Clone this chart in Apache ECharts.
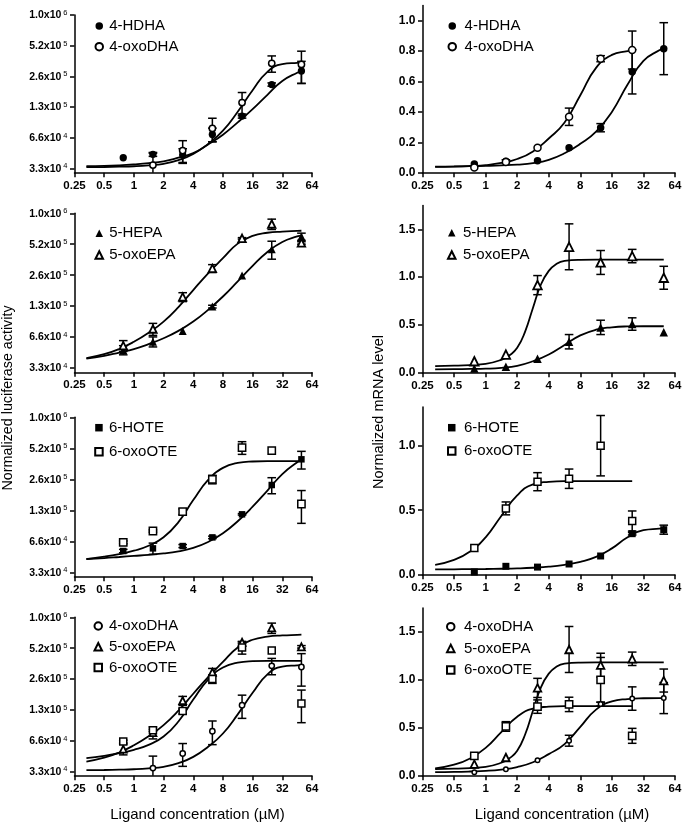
<!DOCTYPE html>
<html><head><meta charset="utf-8">
<script src="https://cdn.jsdelivr.net/npm/echarts@6/dist/echarts.min.js"></script>
<style>html,body{margin:0;padding:0;background:#fff}#c{width:686px;height:827px}</style>
</head><body><div id="c"></div>
<script>
// ---------------- data ----------------
const conc = [0.78, 1.56, 3.125, 6.25, 12.5, 25, 50];
const concTicks = [0.25, 0.5, 1, 2, 4, 8, 16, 32, 64];
const concTickLabels = ['0.25', '0.5', '1', '2', '4', '8', '16', '32', '64'];
const lucTickValues = [32768, 65536, 131072, 262144, 524288, 1048576];
const lucTickMantissa = ['3.3', '6.6', '1.3', '2.6', '5.2', '1.0'];
const lucTickExponent = ['4', '4', '5', '5', '5', '6'];
const mrnaTicksA = [0, 0.2, 0.4, 0.6, 0.8, 1.0];
const mrnaTicksB = [0, 0.5, 1.0, 1.5];
const mrnaTicksC = [0, 0.5, 1.0];

// luciferase activity: means and SEM
const luc4HDHA = [41700, 45000, 44300, 70600, 107000, 218000, 296000];
const luc4HDHAErr = [0, 2000, 6800, 10800, 5000, 8000, 72000];
const luc4oxoDHA = [null, 35300, 49000, 80800, 145000, 352000, 343000];
const luc4oxoDHAErr = [0, 10900, 12300, 21000, 37000, 64000, 120000];
const luc5HEPA = [49000, 59100, 75000, 129600, 260000, 468000, 622000];
const luc5HEPAErr = [5000, 6600, 0, 4000, 0, 93000, 50000];
const luc5oxoEPA = [54000, 78500, 161000, 305000, 598000, 825000, 540000];
const luc5oxoEPAErr = [6500, 10500, 16000, 27000, 10000, 95000, 15000];
const luc6HOTE = [52800, 56000, 59000, 71600, 119900, 230900, 410000];
const luc6HOTEErr = [2000, 7000, 2000, 2000, 2000, 41000, 80000];
const luc6oxoOTE = [64100, 82600, 127200, 262000, 533000, 497800, 151000];
const luc6oxoOTEErr = [2000, 2000, 8000, 25000, 75000, 0, 53000];

// fitted-curve x positions (ligand concentration, uM)
const fitXFull = [0.33, 0.5, 0.71, 1, 1.41, 2, 2.83, 4, 5.66, 8, 11.3, 16, 22.6, 32, 45.3, 50];
const fitXTo25 = [0.33, 0.5, 0.71, 1, 1.41, 2, 2.83, 4, 5.66, 8, 11.3, 16, 22.6, 25];
const fitXSteep = [0.33, 0.5, 0.71, 1, 1.41, 1.68, 2, 2.38, 2.83, 3.36, 4, 4.76, 5.66, 8, 16, 32, 50];

// luciferase fitted curves
const lucFit4HDHA = [34400, 34650, 35120, 35850, 36860, 38430, 41760, 46340, 56270, 70240, 92680, 124900, 172900, 236000, 284600, 292600];
const lucFit4oxoDHA = [33690, 33810, 34040, 34400, 35120, 36360, 39510, 45390, 57050, 76860, 118100, 191800, 290600, 345900, 355600, 356800];
const lucFit5HEPA = [40330, 42930, 46340, 50010, 55880, 63740, 75280, 92680, 120600, 162600, 228200, 322700, 440900, 550700, 623900, 637000];
const lucFit5oxoEPA = [40890, 44580, 50160, 58900, 72090, 92680, 128300, 187900, 273300, 383900, 531600, 632600, 678000, 697000, 706700, 709100];
const lucFit6oxoOTE = [44150, 46500, 49310, 53210, 59450, 71700, 100700, 164800, 258500, 338500, 378500, 390500, 393200, 393200, 393200, 393200];
const lucFit6HOTE = [44150, 45080, 46190, 47330, 48490, 50010, 52500, 56660, 64630, 78480, 102800, 142300, 204100, 294700, 383800, 405700];

// mRNA level: means and SEM
const mrna4HDHA = [0.057, 0.075, 0.079, 0.164, 0.296, 0.664, 0.816];
const mrna4HDHAErr = [0, 0.01, 0, 0, 0.027, 0.146, 0.171];
const mrna4oxoDHA = [0.035, 0.07, 0.164, 0.368, 0.75, 0.807, null];
const mrna4oxoDHAErr = [0, 0, 0, 0.057, 0.02, 0.125, 0];
const mrna4oxoDHAAll = [0.035, 0.068, 0.162, 0.365, 0.748, 0.805, 0.81];
const mrna4oxoDHAAllErr = [0, 0, 0, 0.057, 0.02, 0.122, 0.162];
const mrna5HEPA = [0.045, 0.063, 0.146, 0.324, 0.474, 0.509, 0.422];
const mrna5HEPAErr = [0, 0, 0, 0.075, 0.075, 0.065, 0];
const mrna5oxoEPA = [0.12, 0.19, 0.916, 1.317, 1.153, 1.22, 0.993];
const mrna5oxoEPAErr = [0, 0, 0.1, 0.24, 0.125, 0.07, 0.12];
const mrna6HOTE = [0.021, 0.065, 0.059, 0.083, 0.145, 0.318, 0.349];
const mrna6HOTEErr = [0, 0, 0, 0, 0, 0.01, 0.035];
const mrna6oxoOTE = [0.207, 0.514, 0.721, 0.744, 1.0, 0.416, null];
const mrna6oxoOTEErr = [0, 0.05, 0.07, 0.075, 0.234, 0.078, 0];

// mRNA fitted curves
const mrnaFit4HDHA = [0.040, 0.041, 0.043, 0.045, 0.048, 0.053, 0.063, 0.085, 0.128, 0.19, 0.27, 0.40, 0.58, 0.735, 0.805, 0.815];
const mrnaFit4oxoDHA = [0.038, 0.040, 0.044, 0.05, 0.064, 0.09, 0.14, 0.225, 0.33, 0.51, 0.69, 0.775, 0.80, 0.805];
const mrnaFit4oxoDHAAll = [0.038, 0.040, 0.044, 0.05, 0.064, 0.09, 0.14, 0.225, 0.33, 0.51, 0.69, 0.775, 0.80, 0.808, 0.81, 0.81];
const mrnaFit5HEPA = [0.035, 0.037, 0.039, 0.042, 0.051, 0.072, 0.12, 0.19, 0.29, 0.39, 0.45, 0.475, 0.484, 0.486, 0.486, 0.486];
const mrnaFit5oxoEPA = [0.068, 0.073, 0.08, 0.092, 0.135, 0.18, 0.26, 0.43, 0.68, 0.92, 1.065, 1.14, 1.17, 1.18, 1.182, 1.182, 1.182];
const mrnaFit6oxoOTE = [0.077, 0.115, 0.18, 0.29, 0.455, 0.615, 0.70, 0.72, 0.726, 0.726, 0.726, 0.726, 0.726, 0.726];
const mrnaFit6HOTE = [0.041, 0.042, 0.043, 0.044, 0.046, 0.049, 0.054, 0.062, 0.077, 0.10, 0.138, 0.204, 0.29, 0.345, 0.357, 0.359];

// ---------------- layout / style ----------------
const FF = '"Liberation Sans", Arial, Helvetica, sans-serif';
const LUC_MIN = 29740, LUC_MAX = 1048700;

const panels = [
  { col: 'L', top: 15, height: 157.7, groups: [
      { name: '4-HDHA', y: luc4HDHA, err: luc4HDHAErr, fx: fitXFull, fy: lucFit4HDHA, sym: 'circle', size: 7.3, open: false },
      { name: '4-oxoDHA', y: luc4oxoDHA, err: luc4oxoDHAErr, fx: fitXFull, fy: lucFit4oxoDHA, sym: 'circle', size: 6.3, open: true }],
    legend: { left: 94.5, top: 18.5, gap: 5.7, pad: 1.2 } },
  { col: 'L', top: 213.3, height: 159, groups: [
      { name: '5-HEPA', y: luc5HEPA, err: luc5HEPAErr, fx: fitXFull, fy: lucFit5HEPA, sym: 'triangle', size: 8, open: false },
      { name: '5-oxoEPA', y: luc5oxoEPA, err: luc5oxoEPAErr, fx: fitXFull, fy: lucFit5oxoEPA, sym: 'triangle', size: 7.5, open: true }],
    legend: { left: 94.5, top: 225.8, gap: 6.7, pad: 1.2 } },
  { col: 'L', top: 417.3, height: 159.4, groups: [
      { name: '6-HOTE', y: luc6HOTE, err: luc6HOTEErr, fx: fitXFull, fy: lucFit6HOTE, sym: 'rect', size: 6.5, open: false },
      { name: '6-oxoOTE', y: luc6oxoOTE, err: luc6oxoOTEErr, fx: fitXFull, fy: lucFit6oxoOTE, sym: 'rect', size: 7.3, open: true }],
    legend: { left: 94.2, top: 420.2, gap: 9, pad: 1.2 } },
  { col: 'L', top: 617.3, height: 158.4, groups: [
      { name: '4-oxoDHA', y: luc4oxoDHA, err: luc4oxoDHAErr, fx: fitXFull, fy: lucFit4oxoDHA, sym: 'circle', size: 5.3, open: true },
      { name: '5-oxoEPA', y: luc5oxoEPA, err: luc5oxoEPAErr, fx: fitXFull, fy: lucFit5oxoEPA, sym: 'triangle', size: 7, open: true },
      { name: '6-oxoOTE', y: luc6oxoOTE, err: luc6oxoOTEErr, fx: fitXFull, fy: lucFit6oxoOTE, sym: 'rect', size: 7, open: true }],
    legend: { left: 93.5, top: 618.5, gap: 5.7, pad: 2 } },
  { col: 'R', top: 5.5, height: 167.2, max: 1.1, ticks: mrnaTicksA, groups: [
      { name: '4-HDHA', y: mrna4HDHA, err: mrna4HDHAErr, fx: fitXFull, fy: mrnaFit4HDHA, sym: 'circle', size: 7.5, open: false },
      { name: '4-oxoDHA', y: mrna4oxoDHA, err: mrna4oxoDHAErr, fx: fitXTo25, fy: mrnaFit4oxoDHA, sym: 'circle', size: 7, open: true }],
    legend: { left: 447.5, top: 18.5, gap: 5.7, pad: 3.6 } },
  { col: 'R', top: 205.4, height: 167.3, max: 1.75, ticks: mrnaTicksB, groups: [
      { name: '5-HEPA', y: mrna5HEPA, err: mrna5HEPAErr, fx: fitXFull, fy: mrnaFit5HEPA, sym: 'triangle', size: 8.5, open: false },
      { name: '5-oxoEPA', y: mrna5oxoEPA, err: mrna5oxoEPAErr, fx: fitXSteep, fy: mrnaFit5oxoEPA, sym: 'triangle', size: 8.5, open: true }],
    legend: { left: 447, top: 225.2, gap: 7.3, pad: 2.5 } },
  { col: 'R', top: 407, height: 167.7, max: 1.3, ticks: mrnaTicksC, groups: [
      { name: '6-HOTE', y: mrna6HOTE, err: mrna6HOTEErr, fx: fitXFull, fy: mrnaFit6HOTE, sym: 'rect', size: 7, open: false },
      { name: '6-oxoOTE', y: mrna6oxoOTE, err: mrna6oxoOTEErr, fx: fitXTo25, fy: mrnaFit6oxoOTE, sym: 'rect', size: 7, open: true }],
    legend: { left: 447, top: 420.2, gap: 8.3, pad: 3.5 } },
  { col: 'R', top: 608, height: 167.7, max: 1.75, ticks: mrnaTicksB, groups: [
      { name: '4-oxoDHA', y: mrna4oxoDHAAll, err: mrna4oxoDHAAllErr, fx: fitXFull, fy: mrnaFit4oxoDHAAll, sym: 'circle', size: 4.5, open: true },
      { name: '5-oxoEPA', y: mrna5oxoEPA, err: mrna5oxoEPAErr, fx: fitXSteep, fy: mrnaFit5oxoEPA, sym: 'triangle', size: 7.5, open: true },
      { name: '6-oxoOTE', y: mrna6oxoOTE, err: mrna6oxoOTEErr, fx: fitXTo25, fy: mrnaFit6oxoOTE, sym: 'rect', size: 7.3, open: true }],
    legend: { left: 446, top: 619.2, gap: 6.7, pad: 4.5 } }
];

const COLS = { L: { left: 74.5, width: 237.5 }, R: { left: 422.5, width: 252.5 } };

function nearestLog(arr, v) {
  let best = 0, bd = Infinity;
  arr.forEach((t, i) => { const d = Math.abs(Math.log(t) - Math.log(v)); if (d < bd) { bd = d; best = i; } });
  return best;
}
function nearestLin(arr, v) {
  let best = 0, bd = Infinity;
  arr.forEach((t, i) => { const d = Math.abs(t - v); if (d < bd) { bd = d; best = i; } });
  return best;
}

function renderErr(params, api) {
  const x = api.value(0), lo = api.value(1), hi = api.value(2), clipped = api.value(3);
  const a = api.coord([x, lo]), b = api.coord([x, hi]);
  const w = 4.3, st = { stroke: '#000', lineWidth: 1.5 };
  const ch = [
    { type: 'line', shape: { x1: a[0], y1: a[1], x2: b[0], y2: b[1] }, style: st },
    { type: 'line', shape: { x1: b[0] - w, y1: b[1], x2: b[0] + w, y2: b[1] }, style: st }
  ];
  if (!clipped) ch.push({ type: 'line', shape: { x1: a[0] - w, y1: a[1], x2: a[0] + w, y2: a[1] }, style: st });
  return { type: 'group', children: ch };
}

const axisLineStyle = { color: '#000', width: 1.5 };
const grids = [], xAxes = [], yAxes = [], series = [], legends = [];

panels.forEach((p, gi) => {
  const c = COLS[p.col];
  grids.push({ left: c.left, width: c.width, top: p.top, height: p.height, containLabel: false, outerBoundsMode: 'none' });
  xAxes.push({
    type: 'log', logBase: 2, gridIndex: gi, min: 0.2499, max: 64.01,
    axisLine: { onZero: false, lineStyle: axisLineStyle },
    axisTick: { show: true, length: 4.5, customValues: concTicks, lineStyle: axisLineStyle },
    axisLabel: {
      customValues: concTicks, margin: 7, color: '#000', fontFamily: FF, fontWeight: 'bold', fontSize: 11.5,
      formatter: v => concTickLabels[nearestLog(concTicks, v)]
    },
    splitLine: { show: false }, minorTick: { show: false }
  });
  const isLuc = p.col === 'L';
  const yMin = isLuc ? LUC_MIN : 0;
  if (isLuc) {
    yAxes.push({
      type: 'log', logBase: 2, gridIndex: gi, min: LUC_MIN, max: LUC_MAX,
      axisLine: { onZero: false, lineStyle: axisLineStyle },
      axisTick: { show: true, length: 4.5, customValues: lucTickValues, lineStyle: axisLineStyle },
      axisLabel: {
        customValues: lucTickValues, margin: 7,
        formatter: v => { const i = nearestLog(lucTickValues, v); return '{m|' + lucTickMantissa[i] + 'x10}{e|' + lucTickExponent[i] + '}'; },
        rich: {
          m: { fontSize: 10.5, fontWeight: 'bold', fontFamily: FF, color: '#000', lineHeight: 12, padding: [4, 0, 0, 0], verticalAlign: 'bottom' },
          e: { fontSize: 7.5, fontFamily: FF, color: '#000', lineHeight: 8, verticalAlign: 'top', padding: [0, 0, 0, 2] }
        }
      },
      splitLine: { show: false }, minorTick: { show: false }
    });
  } else {
    yAxes.push({
      type: 'value', gridIndex: gi, min: 0, max: p.max,
      axisLine: { show: true, onZero: false, lineStyle: axisLineStyle },
      axisTick: { show: true, length: 4.5, customValues: p.ticks, lineStyle: axisLineStyle },
      axisLabel: {
        customValues: p.ticks, margin: 7, color: '#000', fontFamily: FF, fontWeight: 'bold', fontSize: 12,
        formatter: v => p.ticks[nearestLin(p.ticks, v)].toFixed(1)
      },
      splitLine: { show: false }, minorTick: { show: false }
    });
  }
  p.groups.forEach(g => {
    const pts = [], errs = [];
    conc.forEach((xv, i) => {
      const v = g.y[i];
      if (v == null) return;
      pts.push([xv, v]);
      const e = g.err[i];
      if (e > 0) {
        let lo = v - e, clipped = 0;
        if (lo < yMin) { lo = yMin; clipped = 1; }
        errs.push([xv, lo, v + e, clipped]);
      }
    });
    series.push({
      type: 'custom', xAxisIndex: gi, yAxisIndex: gi, renderItem: renderErr, data: errs,
      encode: { x: 0, y: [1, 2] }, z: 2, silent: true
    });
    series.push({
      type: 'line', name: g.name + ' fit', xAxisIndex: gi, yAxisIndex: gi,
      data: g.fx.map((xv, i) => [xv, g.fy[i]]), showSymbol: false, symbol: 'none',
      smooth: 0.5, lineStyle: { color: '#000', width: 1.8 }, z: 3, silent: true
    });
    series.push({
      type: 'scatter', name: g.name, xAxisIndex: gi, yAxisIndex: gi, data: pts,
      symbol: g.sym, symbolSize: g.size, z: 4, silent: true,
      itemStyle: g.open ? { color: '#fff', borderColor: '#000', borderWidth: g.sym === 'triangle' ? 1.8 : 1.5, opacity: 1 }
                        : { color: '#000', borderColor: '#000', borderWidth: 0, opacity: 1 }
    });
  });
  legends.push({
    data: p.groups.map(g => g.name), orient: 'vertical', left: p.legend.left, top: p.legend.top,
    itemGap: p.legend.gap, padding: 0, itemWidth: 7.5, itemHeight: 7.5, selectedMode: false,
    textStyle: { fontSize: 15, color: '#000', fontFamily: FF, padding: [0, 0, 0, p.legend.pad] }
  });
});

const chart = echarts.init(document.getElementById('c'), null, { renderer: 'canvas' });
chart.setOption({
  animation: false,
  backgroundColor: '#fff',
  grid: grids, xAxis: xAxes, yAxis: yAxes, series: series, legend: legends,
  graphic: [
    { type: 'text', x: 8, y: 398, rotation: Math.PI / 2,
      style: { text: 'Normalized luciferase activity', fontSize: 14.3, fontFamily: FF, fill: '#000', align: 'center', verticalAlign: 'middle' } },
    { type: 'text', x: 379, y: 412, rotation: Math.PI / 2,
      style: { text: 'Normalized mRNA level', fontSize: 14.5, fontFamily: FF, fill: '#000', align: 'center', verticalAlign: 'middle' } },
    { type: 'text', x: 197.5, y: 815,
      style: { text: 'Ligand concentration (\u00b5M)', fontSize: 15, fontFamily: FF, fill: '#000', align: 'center', verticalAlign: 'middle' } },
    { type: 'text', x: 562, y: 815,
      style: { text: 'Ligand concentration (\u00b5M)', fontSize: 15, fontFamily: FF, fill: '#000', align: 'center', verticalAlign: 'middle' } }
  ]
});
</script>
</body></html>
